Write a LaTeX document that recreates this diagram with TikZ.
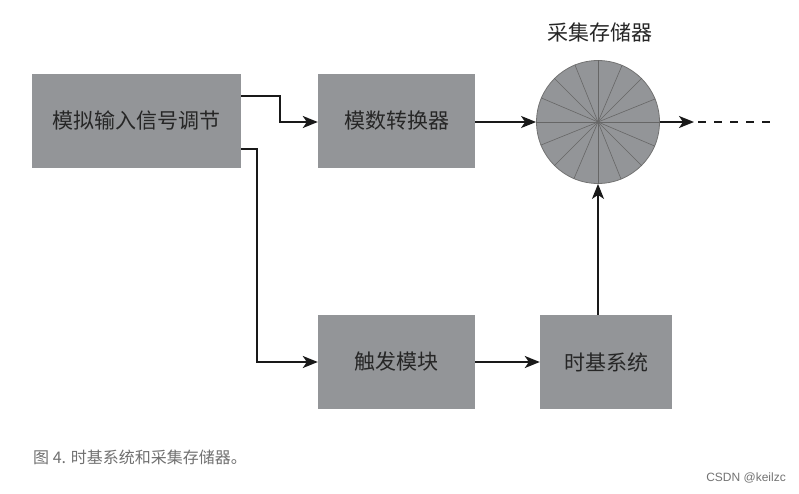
\documentclass[tikz,border=0pt]{standalone}
\usepackage{fontspec}
\setmainfont{Noto Sans CJK SC}
\setsansfont{Liberation Sans}
\usetikzlibrary{arrows.meta}
\definecolor{boxgray}{HTML}{939598}
\definecolor{capgray}{HTML}{707070}
\begin{document}
\begin{tikzpicture}[x=1pt,y=-1pt,
  blk/.style={fill=boxgray,draw=none,inner sep=0pt,font=\fontsize{21}{24}\selectfont,text=black!85},
  conn/.style={line width=1.8pt,draw=black!90,-{Stealth[length=15pt,width=12pt,inset=4pt]}},
  spoke/.style={line width=0.6pt,draw=black!60}]
\useasboundingbox (0,0) rectangle (799,493);
\node[blk,minimum width=209pt,minimum height=94pt] (adc0) at (136.5,121) {模拟输入信号调节};
\node[blk,minimum width=157pt,minimum height=94pt] (adc) at (396.5,121) {模数转换器};
\node[blk,minimum width=157pt,minimum height=94pt] (trig) at (396.5,362) {触发模块};
\node[blk,minimum width=132pt,minimum height=94pt] (tb) at (606,362) {时基系统};
\node[circle,fill=boxgray,draw=black!55,line width=0.8pt,minimum size=123pt,inner sep=0pt] (mem) at (598,122) {};
\foreach \a in {0,22.5,...,337.5}{\draw[spoke] (mem.center) -- (mem.\a);}
\node[font=\fontsize{21}{24}\selectfont,text=black!85] (memlbl) at (600,32) {采集存储器};
\coordinate (a1) at (241,96);
\coordinate (a2) at (241,149);
\draw[conn] (a1) -- (280,96) -- (280,122) -- (adc.west|-0,122);
\draw[conn] (a2) -- (257,149) -- (257,362) -- (trig.west);
\draw[conn] (adc.east|-0,122) -- (mem.west);
\draw[conn] (trig.east) -- (tb.west);
\draw[conn] (tb.north-|mem.south) -- (mem.south);
\coordinate (outtip) at (694,122);
\coordinate (outend) at (776,122);
\draw[conn] (mem.east) -- (outtip);
\draw[line width=1.8pt,draw=black!90,dash pattern=on 8pt off 8pt] (outtip) ++(4,0) -- (outend);
\node[anchor=west,font=\fontsize{16}{19}\selectfont,text=capgray,inner sep=0pt] (cap) at (33,457) {图 4. 时基系统和采集存储器。};
\node[anchor=east,font=\sffamily\fontsize{12}{14}\selectfont,text=black!55,inner sep=0pt] (wm) at (786,478) {CSDN @keilzc};
\end{tikzpicture}
\end{document}
